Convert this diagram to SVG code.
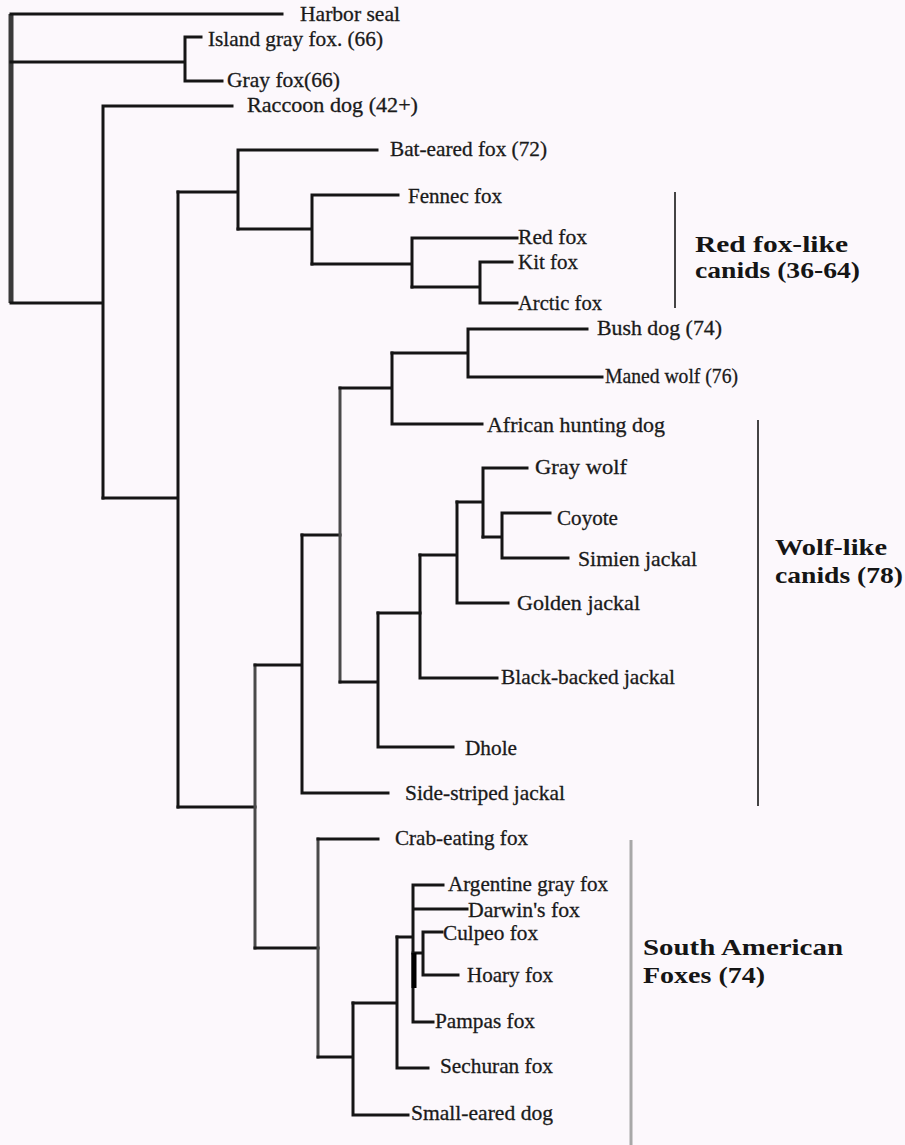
<svg xmlns="http://www.w3.org/2000/svg" width="905" height="1145" viewBox="0 0 905 1145">
<style>
.bg{fill:#fcf8fc}
.e{stroke:#151515;stroke-width:3;fill:none;stroke-linecap:square}
.g{stroke:#4a4a4a;stroke-width:3;fill:none;stroke-linecap:square}
.lab{font-family:"Liberation Serif",serif;font-size:21px;fill:#1a1a1a;stroke:#1a1a1a;stroke-width:0.3}
.grp{font-family:"Liberation Serif",serif;font-size:24px;font-weight:bold;fill:#151515}
.brk{stroke:#444;stroke-width:2;fill:none}
</style>
<rect class="bg" x="0" y="0" width="905" height="1145"/>
<g id="connectors">
<path d="M11,14 V303" stroke="#3a3a3a" stroke-width="5" fill="none"/>
<path class="e" d="M11,14 H282"/>
<path class="e" d="M11,62 H185 M185,37 V81 M185,37 H201 M185,81 H222"/>
<path class="e" d="M11,303 H103 M103,106 V498 M103,106 H232"/>
<path class="e" d="M103,498 H178 M178,192 V807"/>
<path class="e" d="M178,192 H238 M238,150 V229 M238,150 H377"/>
<path class="e" d="M238,229 H312 M312,195 V264 M312,195 H398"/>
<path class="e" d="M312,264 H412 M412,238 V287 M412,238 H517"/>
<path class="e" d="M412,287 H480 M480,262 V303 M480,262 H512 M480,303 H517"/>
<path class="e" d="M178,807 H255"/>
<path class="g" d="M255,665 V948"/>
<path class="e" d="M255,665 H302 M302,535 V793 M302,793 H388"/>
<path class="e" d="M302,535 H340"/>
<path class="g" d="M340,388 V682"/>
<path class="e" d="M340,388 H392 M392,353 V424 M392,424 H482"/>
<path class="e" d="M392,353 H468 M468,329 V377 M468,329 H587 M468,377 H602"/>
<path class="e" d="M340,682 H378 M378,613 V747 M378,747 H453"/>
<path class="e" d="M378,613 H420" stroke-width="5"/>
<path class="e" d="M420,555 V678 M420,678 H497"/>
<path class="e" d="M420,555 H457 M457,502 V603 M457,603 H508"/>
<path class="e" d="M457,502 H483 M483,468 V537 M483,468 H527"/>
<path class="e" d="M483,537 H502 M502,513 V558 M502,513 H550 M502,558 H568"/>
<path class="e" d="M255,948 H318"/>
<path class="g" d="M318,839 V1057"/>
<path class="e" d="M318,839 H378"/>
<path class="e" d="M318,1057 H353 M353,1003 V1115 M353,1115 H408"/>
<path class="e" d="M353,1003 H397 M397,937 V1068 M397,1068 H428"/>
<path class="e" d="M397,937 H413 M413,885 V1022 M413,885 H443 M413,909 H467 M413,1022 H433"/>
<path class="e" d="M413,953 H423 M423,932 V975 M423,932 H442 M423,975 H458"/>
<path d="M414,953 V988" stroke="#000" stroke-width="5" fill="none"/>
</g>
<g id="n-harbor-seal"><text class="lab" x="300" y="21" textLength="100" lengthAdjust="spacingAndGlyphs">Harbor seal</text></g>
<g id="n-island-gray-fox"><text class="lab" x="208" y="46" textLength="175" lengthAdjust="spacingAndGlyphs">Island gray fox. (66)</text></g>
<g id="n-gray-fox"><text class="lab" x="227" y="87" textLength="113" lengthAdjust="spacingAndGlyphs">Gray fox(66)</text></g>
<g id="n-raccoon-dog"><text class="lab" x="247" y="112" textLength="171" lengthAdjust="spacingAndGlyphs">Raccoon dog  (42+)</text></g>
<g id="n-bat-eared-fox"><text class="lab" x="390" y="156" textLength="157" lengthAdjust="spacingAndGlyphs">Bat-eared fox (72)</text></g>
<g id="n-fennec-fox"><text class="lab" x="408" y="203" textLength="94" lengthAdjust="spacingAndGlyphs">Fennec fox</text></g>
<g id="n-red-fox"><text class="lab" x="518" y="244" textLength="69" lengthAdjust="spacingAndGlyphs">Red fox</text></g>
<g id="n-kit-fox"><text class="lab" x="518" y="269" textLength="60" lengthAdjust="spacingAndGlyphs">Kit fox</text></g>
<g id="n-arctic-fox"><text class="lab" x="518" y="310" textLength="84" lengthAdjust="spacingAndGlyphs">Arctic fox</text></g>
<g id="n-bush-dog"><text class="lab" x="597" y="335" textLength="125" lengthAdjust="spacingAndGlyphs">Bush dog (74)</text></g>
<g id="n-maned-wolf"><text class="lab" x="605" y="383" textLength="133" lengthAdjust="spacingAndGlyphs">Maned wolf (76)</text></g>
<g id="n-african-hunting-dog"><text class="lab" x="487" y="432" textLength="178" lengthAdjust="spacingAndGlyphs">African hunting dog</text></g>
<g id="n-gray-wolf"><text class="lab" x="535" y="474" textLength="92" lengthAdjust="spacingAndGlyphs">Gray wolf</text></g>
<g id="n-coyote"><text class="lab" x="557" y="525" textLength="61" lengthAdjust="spacingAndGlyphs">Coyote</text></g>
<g id="n-simien-jackal"><text class="lab" x="578" y="566" textLength="119" lengthAdjust="spacingAndGlyphs">Simien jackal</text></g>
<g id="n-golden-jackal"><text class="lab" x="517" y="610" textLength="123" lengthAdjust="spacingAndGlyphs">Golden jackal</text></g>
<g id="n-black-backed-jackal"><text class="lab" x="501" y="684" textLength="174" lengthAdjust="spacingAndGlyphs">Black-backed jackal</text></g>
<g id="n-dhole"><text class="lab" x="465" y="755" textLength="52" lengthAdjust="spacingAndGlyphs">Dhole</text></g>
<g id="n-side-striped-jackal"><text class="lab" x="405" y="800" textLength="160" lengthAdjust="spacingAndGlyphs">Side-striped jackal</text></g>
<g id="n-crab-eating-fox"><text class="lab" x="395" y="845" textLength="133" lengthAdjust="spacingAndGlyphs">Crab-eating fox</text></g>
<g id="n-argentine-gray-fox"><text class="lab" x="448" y="891" textLength="160" lengthAdjust="spacingAndGlyphs">Argentine gray fox</text></g>
<g id="n-darwins-fox"><text class="lab" x="468" y="917" textLength="112" lengthAdjust="spacingAndGlyphs">Darwin's fox</text></g>
<g id="n-culpeo-fox"><text class="lab" x="443" y="940" textLength="95" lengthAdjust="spacingAndGlyphs">Culpeo fox</text></g>
<g id="n-hoary-fox"><text class="lab" x="467" y="982" textLength="86" lengthAdjust="spacingAndGlyphs">Hoary fox</text></g>
<g id="n-pampas-fox"><text class="lab" x="435" y="1028" textLength="100" lengthAdjust="spacingAndGlyphs">Pampas fox</text></g>
<g id="n-sechuran-fox"><text class="lab" x="440" y="1073" textLength="113" lengthAdjust="spacingAndGlyphs">Sechuran fox</text></g>
<g id="n-small-eared-dog"><text class="lab" x="411" y="1120" textLength="142" lengthAdjust="spacingAndGlyphs">Small-eared dog</text></g>
<g id="grp-red-fox-like">
<path class="brk" d="M675,192 V308"/>
<text class="grp" x="695" y="252" textLength="153" lengthAdjust="spacingAndGlyphs">Red fox-like</text>
<text class="grp" x="695" y="278" textLength="165" lengthAdjust="spacingAndGlyphs">canids (36-64)</text>
</g>
<g id="grp-wolf-like">
<path class="brk" d="M758,420 V806"/>
<text class="grp" x="775" y="555" textLength="112" lengthAdjust="spacingAndGlyphs">Wolf-like</text>
<text class="grp" x="775" y="583" textLength="128" lengthAdjust="spacingAndGlyphs">canids (78)</text>
</g>
<g id="grp-south-american">
<path d="M631,840 V1145" stroke="#a8a8a8" stroke-width="3" fill="none"/>
<text class="grp" x="643" y="955" textLength="200" lengthAdjust="spacingAndGlyphs">South American</text>
<text class="grp" x="643" y="983" textLength="122" lengthAdjust="spacingAndGlyphs">Foxes (74)</text>
</g>
</svg>
